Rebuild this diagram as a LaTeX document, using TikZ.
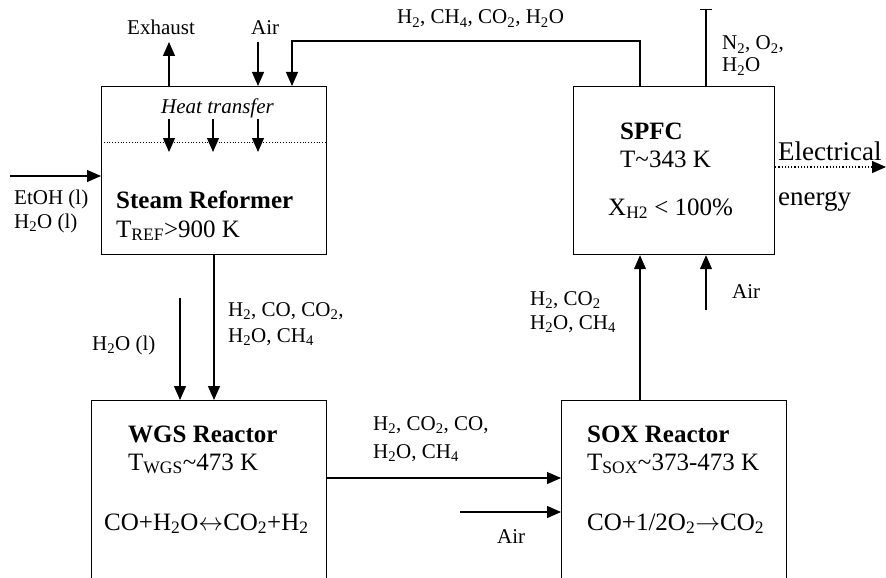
\documentclass[tikz,border=0pt]{standalone}
\usepackage{fontspec}
\setmainfont{Liberation Serif}
\usepackage{tikz}
\usetikzlibrary{arrows.meta,positioning,calc}
\newcommand{\low}[1]{\textsubscript{#1}}

\begin{document}
\begin{tikzpicture}[x=1pt, y=-1pt, font=\fontsize{21}{24}\selectfont,
		unit/.style={draw, line width=1.2pt, anchor=north west, inner sep=0pt},
		lbl/.style={anchor=base west, inner sep=0pt, align=left},
		title/.style={lbl, font=\fontsize{25}{29}\selectfont},
		flow/.style={line width=1.2pt, -{Triangle[length=14pt,width=12pt]}}]
			
			\useasboundingbox (0,0) rectangle (886,578);
			\clip (0,0) rectangle (886,578);
			
			% Units
			\node[unit, minimum width=225pt, minimum height=168pt] (ref) at (101,86) {};
			\node[unit, minimum width=201pt, minimum height=168pt] (spfc) at (573,86) {};
			\node[unit, minimum width=235pt, minimum height=200pt] (wgs) at (91,400) {};
			\node[unit, minimum width=225pt, minimum height=200pt] (sox) at (561,400) {};
			
			% Unit texts
			\node[lbl] (refhx) at (161,113) {\itshape Heat transfer};
			\node[title] (refname) at (116,208) {\bfseries Steam Reformer};
			\node[title] (reftemp) at (116,237) {T\low{REF}>900 K};
			\node[title] (spfcname) at (620,139) {\bfseries SPFC};
			\node[title] (spfctemp) at (620,167) {T\textasciitilde 343 K};
			\node[title] (spfcconv) at (608,215) {X\low{H2} < 100\%};
			\node[title] (wgsname) at (128,442) {\bfseries WGS Reactor};
			\node[title] (wgstemp) at (128,470) {T\low{WGS}\textasciitilde 473 K};
			\node[title] (wgsrxn) at (104,530) {CO+H\low{2}O$\leftrightarrow$CO\low{2}+H\low{2}};
			\node[title] (soxname) at (587,442) {\bfseries SOX Reactor};
			\node[title] (soxtemp) at (587,470) {T\low{SOX}\textasciitilde 373-473 K};
			\node[title] (soxrxn) at (587,530) {CO+1/2O\low{2}$\rightarrow$CO\low{2}};
			
			% Stream labels
			\node[lbl] (lexh) at (127,35) {Exhaust};
			\node[lbl] (lair1) at (251,35) {Air};
			\node[lbl] (lret) at (397,24) {H\low{2}, CH\low{4}, CO\low{2}, H\low{2}O};
			\node[lbl] (lvent) at (722,72) {N\low{2}, O\low{2},\\[-2pt] H\low{2}O};
			\node[lbl] (lfeed) at (14,228) {EtOH (l)\\ H\low{2}O (l)};
			\node[lbl, font=\fontsize{27}{30}\selectfont] (lelec) at (778,205) {Electrical\\[15pt] energy};
			\node[lbl] (lwat) at (92,350) {H\low{2}O (l)};
			\node[lbl] (lsr) at (228,342) {H\low{2}, CO, CO\low{2},\\[2pt] H\low{2}O, CH\low{4}};
			\node[lbl] (lcl) at (530,329) {H\low{2}, CO\low{2}\\ H\low{2}O, CH\low{4}};
			\node[lbl] (lair3) at (732,298) {Air};
			\node[lbl] (lmix) at (373,458) {H\low{2}, CO\low{2}, CO,\\[4pt] H\low{2}O, CH\low{4}};
			\node[lbl] (lair2) at (497,543) {Air};
			
			% Free ends
			\coordinate (exh) at (169,42);
			\coordinate (air1) at (258,42);
			\coordinate (ret) at (292,41);
			\coordinate (retR) at (640,41);
			\coordinate (vent) at (706,9);
			\coordinate (sep) at (0,142);
			\coordinate (feed) at (10,176);
			\coordinate (elec) at (886,167);
			\coordinate (sr) at (214,0);
			\coordinate (wat) at (180,298);
			\coordinate (cl) at (640,0);
			\coordinate (air3) at (706,310);
			\coordinate (mix) at (0,478);
			\coordinate (air2) at (460,512);
			
			% Connections
			\draw[flow] (exh |- ref.north) -- (exh);
			\draw[flow] (air1) -- (air1 |- ref.north);
			\draw[flow] (retR |- spfc.north) -- (retR) -- (ret) -- (ret |- ref.north);
			\draw[line width=1.2pt, -{Bar[width=12pt]}] (vent |- spfc.north) -- (vent);
			\draw[dotted, line width=0.8pt] (sep -| ref.west) -- (sep -| ref.east);
			\foreach \hx in {169,213,258}
				\draw[flow] (\hx,119) -- (\hx,152);
			\draw[flow] (feed) -- (feed -| ref.west);
			\draw[flow, dotted] (elec -| spfc.east) -- (elec);
			\draw[flow] (sr |- ref.south) -- (sr |- wgs.north);
			\draw[flow] (wat) -- (wat |- wgs.north);
			\draw[flow] (mix -| wgs.east) -- (mix -| sox.west);
			\draw[flow] (air2) -- (air2 -| sox.west);
			\draw[flow] (cl |- sox.north) -- (cl |- spfc.south);
			\draw[flow] (air3) -- (air3 |- spfc.south);
			
		\end{tikzpicture}
\end{document}
